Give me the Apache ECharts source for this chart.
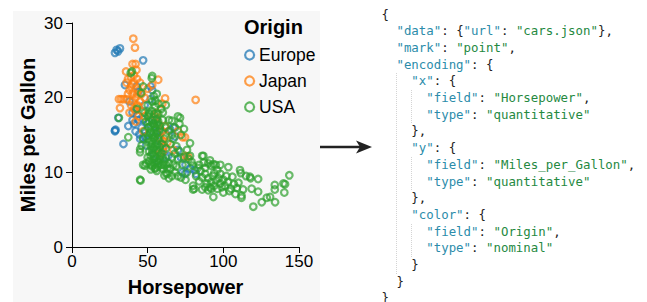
<!DOCTYPE html>
<html>
<head>
<meta charset="utf-8">
<script src="https://cdn.jsdelivr.net/npm/echarts@6/dist/echarts.min.js"></script>
<style>
  html, body { margin: 0; padding: 0; background: #fff; }
  #page { position: relative; width: 647px; height: 302px; overflow: hidden; }
  #panel { position: absolute; left: 13px; top: 11px; width: 307px; height: 291px; background: #f7f7f7; }
  #chart { position: absolute; left: 0; top: 0; width: 647px; height: 302px; }
  .tok {
    position: absolute; white-space: pre;
    font-family: "DejaVu Sans Mono", "Liberation Mono", monospace;
    font-size: 12.4px; line-height: 16.7px; color: #222;
  }
  .tok.k { color: #2b8caa; }
  .tok.s { color: #25893f; }
  .guide { position: absolute; border-left: 1px dotted #d4d4d4; width: 0; }
</style>
</head>
<body>
<div id="page">
  <div id="panel"></div>
  <div id="chart"></div>
</div>
<script>
// horsepower, miles per gallon
const europe = [
  [29.5, 26.4], [28.4, 26.0], [31.7, 26.6], [30.5, 26.2], [47, 25.0], [35, 21.7], [42.7, 21.5], [44, 20.8],
  [28.4, 15.6], [28.4, 15.5], [28.8, 15.7], [30.6, 17.3], [37.2, 16.2], [34, 13.8], [40, 18], [42, 18.4],
  [43, 17.8], [47, 17.1], [42, 15.5], [44.5, 15.1], [45, 14.5], [46.8, 14.6], [49, 13.6], [52, 19.8],
  [53, 21], [52, 21.5], [55, 17], [56, 15.5], [58, 14.2], [59, 15.5], [60, 13.2], [67, 16], [62, 12],
  [65, 15.7], [63.5, 12.2], [73, 10], [75, 11], [78, 10.5], [82, 9.8], [74.7, 9.8], [81, 10.3], [70, 13],
  [54, 12.5], [57, 11.5], [48, 19], [38, 19.5], [40, 17], [50, 16.5], [68, 14.8], [72, 12],
  [44, 17], [46, 16], [48, 14.8], [50, 15], [41, 16.5]
];
const japan = [
  [40.5, 27.9], [41.6, 26.7], [40, 24.5], [42.6, 23.7], [35.7, 23.5], [37, 22.5], [39, 22.8], [41, 23],
  [43, 22.5], [57, 22.4], [53, 21.7], [61.5, 19.9], [59.7, 19.2], [81.7, 19.7], [31, 19.8], [32.5, 19.8],
  [34, 19.8], [36.2, 19.8], [31.7, 18.6], [38, 21], [40, 20.5], [42, 20], [44, 21], [45, 19.5], [39, 19],
  [41, 18.5], [43, 19], [46, 18.2], [38, 18], [40, 21.8], [44, 17.5], [47, 15.5], [56, 18], [60, 15.5],
  [62, 15], [61.5, 16.2], [61, 13.5], [60, 14.2], [58, 14.5], [70, 15.5], [73, 14.7], [74.7, 14.7],
  [75, 12.2], [76.7, 12.1], [58, 12.5], [60, 12.8], [55, 17.5], [57, 16.5], [48, 20], [50, 21.2],
  [36, 22], [42, 16.8], [63, 14], [67, 13],
  [39, 21.5], [41, 22], [43, 20.5], [45, 22], [37, 20.5], [40, 19.5], [44, 18.8], [46, 20.5], [48, 17.5], [42, 24.5]
];
const usa = [
  [39.6, 23.5], [38.8, 23.3], [53, 22.9], [52.7, 22.6], [45.6, 20.6], [47, 21.5], [54, 20.2], [56, 20.5],
  [31, 17.3], [37.2, 14.7], [45, 13.1], [45, 12.7], [46, 13.6], [48.2, 10.9], [45, 9.0], [45.3, 8.9],
  [47, 11], [55, 10.6], [66, 16.9], [71.4, 17.3], [70, 17.5], [71, 16.5], [78, 13.9], [78, 12.2], [75, 9],
  [80.8, 7.8], [80, 7.7], [86, 12.2], [87, 11.3], [43, 18.5], [48, 18], [50, 19], [51, 18],
  [50, 17.5], [51, 16.8], [52, 16.2], [53, 17], [54, 16.5], [55, 16], [56, 17.2], [57, 16.8], [52, 15.5],
  [53, 15], [54, 15.3], [55, 14.8], [56, 15.2], [57, 14.5], [58, 15.8], [50, 14.5], [51, 14], [52, 13.5],
  [53, 13.8], [54, 13.2], [55, 13.5], [56, 13], [57, 12.8], [58, 13.4], [59, 12.5], [51, 12.8], [52, 12.2],
  [53, 12.5], [54, 11.8], [55, 12], [56, 11.5], [57, 11.2], [58, 11.8], [59, 11], [60, 12], [52, 11],
  [53, 10.8], [54, 11.3], [55, 10.5], [56, 10.2], [57, 10.8], [60, 10.5], [61, 11.5], [62, 11], [63, 10.5],
  [64, 11.2], [63, 9.8], [66, 9.5], [68, 10], [70, 9.5], [72, 9.3], [66, 12], [68, 12.5], [70, 11.8],
  [71, 12.8], [69, 13.5], [67, 14.5], [65, 13.8], [64, 15.5], [62, 16], [60, 17], [59, 18.5], [57, 19.2],
  [55, 18.8], [53, 19.5], [61, 14.5], [62, 13.2], [48, 15.5], [49, 16.8], [47, 14.5],
  [50.5, 16], [51.5, 15.2], [52.5, 14.2], [53.5, 16.5], [54.5, 17.8], [55.5, 14.2], [56.5, 13.8], [57.5, 15.5],
  [51, 11.5], [52, 10.4], [53, 13], [54, 14.6], [55, 11.2], [56, 16.4], [58, 16.2], [58.5, 12.2], [59.5, 13.8],
  [60.5, 11], [61, 9.6], [62, 9.9], [64, 9.2], [65, 10.5], [67, 11], [69, 10.8], [73, 11], [74, 12], [76, 10],
  [50, 12], [49, 11.2], [51, 17.8], [53, 18.2], [55, 19.6], [57, 17.8], [60, 18], [62, 19], [64, 17], [66, 15],
  [68, 16], [72, 15], [74, 15.8],
  [76, 13], [77, 11.8], [79, 11.4], [80, 10.9], [84, 11], [88, 10.6], [90, 11.2], [92, 10.9], [91.2, 11.6],
  [93.4, 11.1], [95, 11], [98, 11], [103.3, 10.7], [86.8, 12.2], [82, 9.5], [84, 8.8], [86, 9.3], [88, 9.8],
  [89, 8.5], [90, 9.2], [91, 8], [92, 8.7], [93, 9.5], [94, 8.2], [95, 8.9], [96, 7.8], [97, 9.2], [98, 8.5],
  [99, 8], [90, 7.6], [92, 7.8], [94, 9.9], [88, 8], [86, 7.7], [100, 9], [101, 8.2], [103, 8.7], [105, 7.8],
  [107, 8.4], [104, 7.5], [106, 9.4], [111.5, 9.9], [111, 10.3], [115, 9.5], [117.6, 9.4], [123, 9.1],
  [118, 9.2], [112, 6.9], [112, 6.6], [118.7, 7.8], [123, 7.4], [119.8, 5.4], [125.4, 6.0], [128.7, 6.6],
  [130.9, 6.7], [134.2, 6.0], [134, 8.3], [139.7, 8.5], [140.8, 8.4], [134, 7.7], [143.6, 9.6], [140.3, 7.3],
  [93.4, 6.7], [109, 7.9], [110, 8.6], [113, 7.7], [80, 8.2], [98, 9.8], [102, 9.5], [96, 10.3], [85, 10.2],
  [83, 10.6], [100, 7.3], [108, 7.1]
];
const origins = ['Europe', 'Japan', 'USA'];
const originData = [europe, japan, usa];
const originColors = ['#1f77b4', '#ff7f0e', '#2ca02c'];
const xTicks = [0, 50, 100, 150];
const yTicks = [0, 10, 20, 30];

const specLines = [
  '{',
  '  "data": {"url": "cars.json"},',
  '  "mark": "point",',
  '  "encoding": {',
  '    "x": {',
  '      "field": "Horsepower",',
  '      "type": "quantitative"',
  '    },',
  '    "y": {',
  '      "field": "Miles_per_Gallon",',
  '      "type": "quantitative"',
  '    },',
  '    "color": {',
  '      "field": "Origin",',
  '      "type": "nominal"',
  '    }',
  '  }',
  '}'
];

// code panel: one span per token, keys teal, string values green
const page = document.getElementById('page');
const charW = 12.4 * 0.60205;
const lineH = 16.7;
const specLeft = 381.5, specTop = 6.5;

specLines.forEach(function (line, row) {
  const re = /"[^"]*"|[^"\s]+/g;
  let m;
  while ((m = re.exec(line)) !== null) {
    const text = m[0];
    let cls = 'tok';
    if (text[0] === '"') {
      const after = line.slice(m.index + text.length).trimStart();
      cls += after[0] === ':' ? ' k' : ' s';
    }
    const span = document.createElement('span');
    span.className = cls;
    span.textContent = text;
    span.style.left = (specLeft + m.index * charW) + 'px';
    span.style.top = (specTop + row * lineH) + 'px';
    page.appendChild(span);
  }
});

[[2, 4, 15], [4, 5, 6], [4, 9, 10], [4, 13, 14]].forEach(function (g) {
  const d = document.createElement('div');
  d.className = 'guide';
  d.style.left = (specLeft + g[0] * charW) + 'px';
  d.style.top = (specTop + g[1] * lineH) + 'px';
  d.style.height = ((g[2] - g[1] + 1) * lineH) + 'px';
  page.appendChild(d);
});

const chart = echarts.init(document.getElementById('chart'), null, { renderer: 'svg' });
const fontFamily = '"Liberation Sans", Arial, Helvetica, sans-serif';

chart.setOption({
  animation: false,
  backgroundColor: 'transparent',
  textStyle: { fontFamily: fontFamily },
  title: {
    text: 'Origin',
    left: 244,
    top: 17,
    padding: 0,
    textStyle: { fontSize: 20, fontWeight: 'bold', color: '#000', fontFamily: fontFamily }
  },
  legend: {
    orient: 'vertical',
    left: 244,
    top: 46,
    padding: 0,
    itemWidth: 9,
    itemHeight: 9,
    itemGap: 8,
    icon: 'circle',
    data: origins,
    selectedMode: false,
    textStyle: { fontSize: 17.5, lineHeight: 18, color: '#000', fontFamily: fontFamily },
    itemStyle: { borderWidth: 2.2, opacity: 0.75 }
  },
  grid: { left: 72, top: 23, width: 227, height: 226, containLabel: false },
  xAxis: {
    type: 'value',
    min: xTicks[0],
    max: xTicks[xTicks.length - 1],
    interval: xTicks[1] - xTicks[0],
    name: 'Horsepower',
    nameLocation: 'middle',
    nameGap: 30,
    nameTextStyle: { fontSize: 20, fontWeight: 'bold', color: '#000', fontFamily: fontFamily },
    axisLine: { show: true, lineStyle: { color: '#000', width: 1 } },
    axisTick: { show: true, length: 6, lineStyle: { color: '#000' } },
    axisLabel: { fontSize: 17, color: '#000', margin: 6, fontFamily: fontFamily },
    splitLine: { show: false }
  },
  yAxis: {
    type: 'value',
    min: yTicks[0],
    max: yTicks[yTicks.length - 1],
    interval: yTicks[1] - yTicks[0],
    name: 'Miles per Gallon',
    nameLocation: 'middle',
    nameGap: 34,
    nameTextStyle: { fontSize: 20, fontWeight: 'bold', color: '#000', fontFamily: fontFamily },
    axisLine: { show: true, lineStyle: { color: '#000', width: 1 } },
    axisTick: { show: true, length: 6, lineStyle: { color: '#000' } },
    axisLabel: { fontSize: 17, color: '#000', margin: 9, fontFamily: fontFamily },
    splitLine: { show: false }
  },
  series: origins.map(function (name, i) {
    return {
      name: name,
      type: 'scatter',
      data: originData[i],
      symbol: 'circle',
      symbolSize: 6.6,
      itemStyle: {
        color: 'rgba(0,0,0,0)',
        borderColor: originColors[i],
        borderWidth: 2.2,
        opacity: 0.7
      },
      emphasis: { disabled: true }
    };
  }),
  graphic: [
    {
      type: 'line',
      shape: { x1: 320, y1: 147, x2: 362, y2: 147 },
      style: { stroke: '#222', lineWidth: 2.6 }
    },
    {
      type: 'polygon',
      shape: { points: [[372, 147], [356, 140.5], [360, 147], [356, 153.5]] },
      style: { fill: '#222' }
    }
  ]
});
</script>
</body>
</html>
